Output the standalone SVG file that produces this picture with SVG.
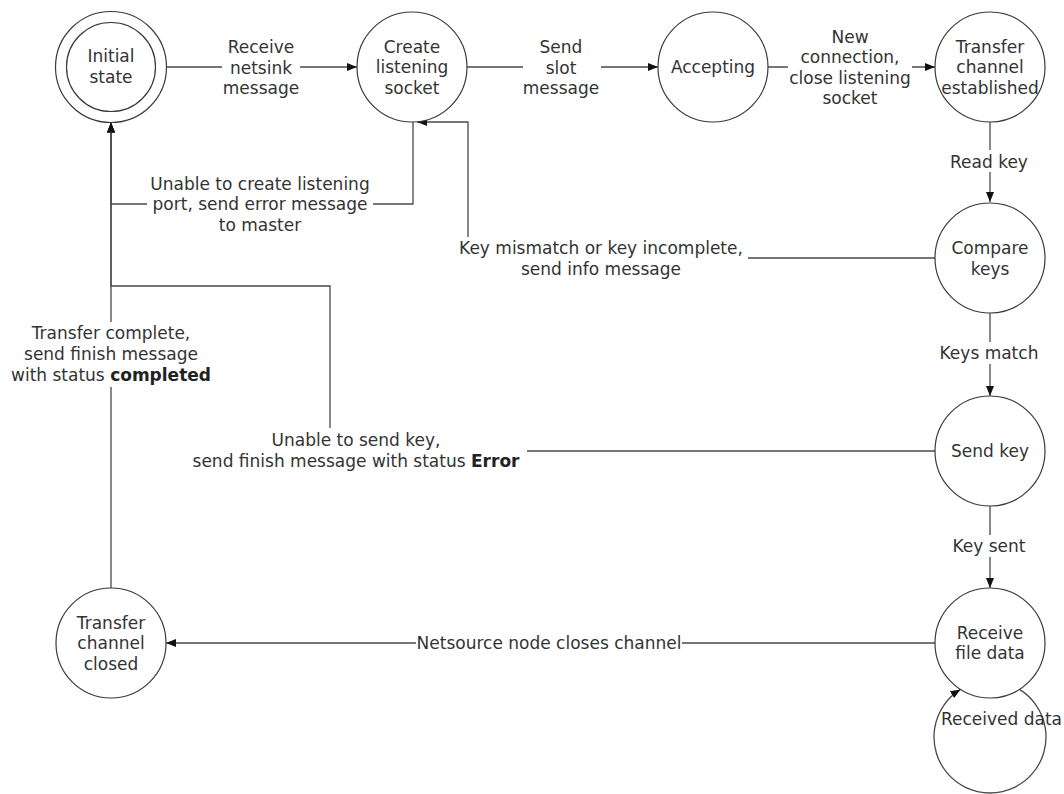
<svg xmlns="http://www.w3.org/2000/svg" width="1064" height="794" viewBox="0 0 1064 794">
<defs>
<style>
.node circle{fill:#fff;stroke:#3a3a3a;stroke-width:1.2}
.t{font-family:"DejaVu Sans",Verdana,sans-serif;font-size:17px;fill:#333;text-anchor:middle}
.edge{fill:none;stroke:#4a4a4a;stroke-width:1.3}
.arr{marker-end:url(#arr)}
.bg{fill:#fff}
.b{font-weight:bold;fill:#222}
</style>
<marker id="arr" viewBox="0 0 10 8" refX="10" refY="4" markerWidth="10" markerHeight="8" markerUnits="userSpaceOnUse" orient="auto">
<path d="M0,0 L10,4 L0,8 z" fill="#111"/>
</marker>
</defs>
<rect width="1064" height="794" fill="#fff"/>

<g id="connectors">
<path class="edge arr" d="M166.5,67 H357"/>
<path class="edge arr" d="M467,67 H658"/>
<path class="edge arr" d="M768,67 H935"/>
<path class="edge arr" d="M990,122 V202"/>
<path class="edge arr" d="M990,313 V396"/>
<path class="edge arr" d="M990,506 V588"/>
<path class="edge arr" d="M935,643 H166"/>
<path class="edge arr" d="M111,588 V122.5"/>
<path class="edge arr" d="M413,122 V204 H111 V122.5"/>
<path class="edge arr" d="M935,258 H468 V122 H417"/>
<path class="edge arr" d="M935,451 H330 V286 H111 V122.5"/>
<path class="edge arr" d="M1019.5,689.4 A56,56 0 1,1 960.5,689.4"/>

<g id="edge-labels">
<rect class="bg" x="222" y="36" width="78" height="62"/>
<text class="t"><tspan x="261" y="53">Receive</tspan><tspan x="261" y="73.5">netsink</tspan><tspan x="261" y="94">message</tspan></text>

<rect class="bg" x="523" y="36" width="78" height="62"/>
<text class="t"><tspan x="561" y="53">Send</tspan><tspan x="561" y="73.5">slot</tspan><tspan x="561" y="94">message</tspan></text>

<rect class="bg" x="788" y="24" width="124" height="86"/>
<text class="t"><tspan x="850" y="42.5">New</tspan><tspan x="850" y="63">connection,</tspan><tspan x="850" y="83.5">close listening</tspan><tspan x="850" y="104">socket</tspan></text>

<rect class="bg" x="948" y="150" width="82" height="22"/>
<text class="t" x="989" y="168">Read key</text>

<rect class="bg" x="940" y="342" width="100" height="22"/>
<text class="t" x="989" y="359">Keys match</text>

<rect class="bg" x="948" y="535" width="82" height="22"/>
<text class="t" x="989" y="552">Key sent</text>

<rect class="bg" x="416" y="633" width="266" height="20"/>
<text class="t" x="549" y="649">Netsource node closes channel</text>

<rect class="bg" x="9" y="322" width="204" height="65"/>
<text class="t"><tspan x="111" y="339">Transfer complete,</tspan><tspan x="111" y="360">send finish message</tspan><tspan x="111" y="381">with status <tspan class="b">completed</tspan></tspan></text>

<rect class="bg" x="147" y="172" width="226" height="62"/>
<text class="t"><tspan x="260" y="189.5">Unable to create listening</tspan><tspan x="260" y="210">port, send error message</tspan><tspan x="260" y="230.5">to master</tspan></text>

<rect class="bg" x="455" y="237" width="293" height="42"/>
<text class="t"><tspan x="601" y="254">Key mismatch or key incomplete,</tspan><tspan x="601" y="274.5">send info message</tspan></text>

<rect class="bg" x="187" y="428" width="340" height="44"/>
<text class="t"><tspan x="356" y="446">Unable to send key,</tspan><tspan x="356" y="466.5">send finish message with status <tspan class="b">Error</tspan></tspan></text>

<text class="t" x="941" y="725" style="text-anchor:start">Received data</text>
</g>
</g>

<g id="initial-state" class="node">
<circle cx="111" cy="67" r="55.5"/>
<circle cx="111" cy="67" r="44.5"/>
<text class="t"><tspan x="111" y="62">Initial</tspan><tspan x="111" y="83">state</tspan></text>
</g>
<g id="create-listening-socket" class="node">
<circle cx="412" cy="67" r="55"/>
<text class="t"><tspan x="412" y="52.5">Create</tspan><tspan x="412" y="73">listening</tspan><tspan x="412" y="93.5">socket</tspan></text>
</g>
<g id="accepting" class="node">
<circle cx="713" cy="67" r="55"/>
<text class="t" x="713" y="73">Accepting</text>
</g>
<g id="transfer-channel-established" class="node">
<circle cx="990" cy="67" r="55"/>
<text class="t"><tspan x="990" y="52.5">Transfer</tspan><tspan x="990" y="73">channel</tspan><tspan x="990" y="93.5">established</tspan></text>
</g>
<g id="compare-keys" class="node">
<circle cx="990" cy="258" r="55"/>
<text class="t"><tspan x="990" y="254">Compare</tspan><tspan x="990" y="274.5">keys</tspan></text>
</g>
<g id="send-key" class="node">
<circle cx="990" cy="451" r="55"/>
<text class="t" x="990" y="457">Send key</text>
</g>
<g id="receive-file-data" class="node">
<circle cx="990" cy="643" r="55"/>
<text class="t"><tspan x="990" y="638.5">Receive</tspan><tspan x="990" y="659">file data</tspan></text>
</g>
<g id="transfer-channel-closed" class="node">
<circle cx="111" cy="643" r="55"/>
<text class="t"><tspan x="111" y="628.5">Transfer</tspan><tspan x="111" y="649">channel</tspan><tspan x="111" y="669.5">closed</tspan></text>
</g>
</svg>
